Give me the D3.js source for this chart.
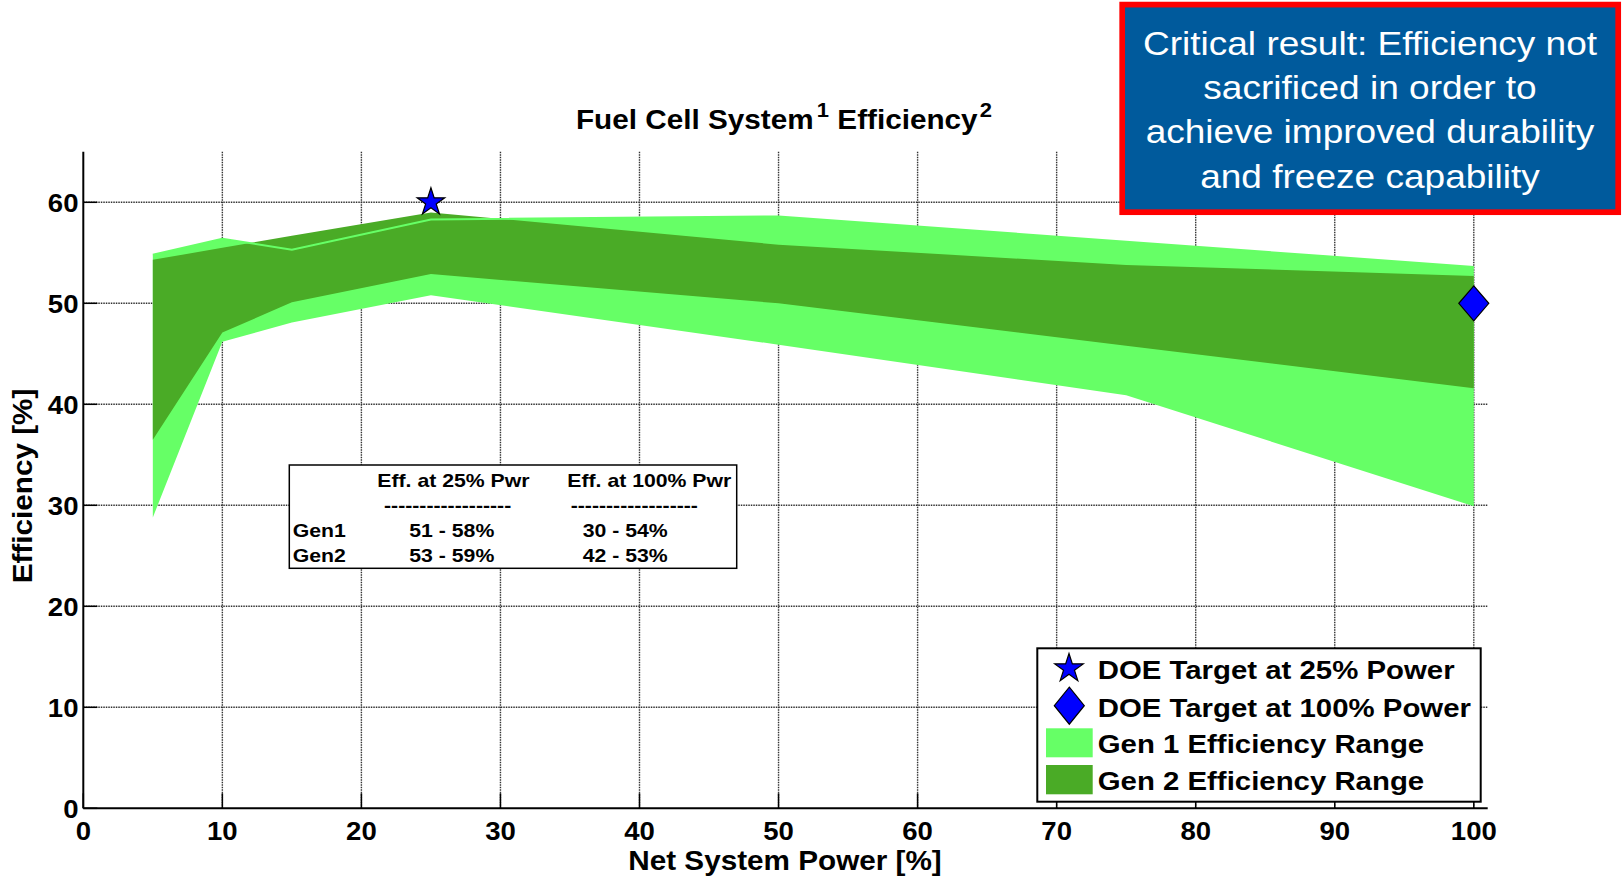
<!DOCTYPE html>
<html>
<head>
<meta charset="utf-8">
<script src="https://cdn.jsdelivr.net/npm/d3@7"></script>
<style>
  body { margin: 0; background: #fff; }
  text { font-family: "Liberation Sans", Arial, sans-serif; }
</style>
</head>
<body>
<div id="plot"></div>
<script>
// chart values
const powerPts = [5, 10, 15, 25, 50, 75, 100];
const gen1Low  = [28.8, 46.2, 48.1, 50.8, 45.9, 40.9, 29.9];
const gen1High = [54.8, 56.4, 55.3, 58.3, 58.6, 56.1, 53.6];
const gen2Low  = [36.5, 47.1, 50.1, 52.9, 50.0, 45.8, 41.6];
const gen2High = [54.3, 55.5, 56.7, 59.0, 55.8, 53.8, 52.7];

const targetPower = [25, 100];
const targetEff = [60, 50];

const xTicks = [0, 10, 20, 30, 40, 50, 60, 70, 80, 90, 100];
const yTicks = [0, 10, 20, 30, 40, 50, 60];

const legendLabels = ["DOE Target at 25% Power", "DOE Target at 100% Power",
                      "Gen 1 Efficiency Range", "Gen 2 Efficiency Range"];
const tableHead = ["Eff. at 25% Pwr", "Eff. at 100% Pwr"];
const tableRows = ["Gen1", "Gen2"];
const eff25 = ["51 - 58%", "53 - 59%"];
const eff100 = ["30 - 54%", "42 - 53%"];
const noteLines = ["Critical result: Efficiency not", "sacrificed in order to",
                   "achieve improved durability", "and freeze capability"];

const width = 1622, height = 879;
const light = "#66ff66", dark = "#4aab26";

const svg = d3.select("#plot").append("svg")
  .attr("width", width)
  .attr("height", height);

const x = d3.scaleLinear().domain([0, 101]).range([83.3, 1487.7]);
const y = d3.scaleLinear().domain([0, 65]).range([808.3, 151.8]);

// text with a bit of horizontal stretch, like the original rendering
function label(parent, px, py, str, size, opts = {}) {
  const rot = opts.rotate ? ` rotate(${opts.rotate})` : "";
  return parent.append("text")
    .attr("transform", `translate(${px},${py})${rot} scale(${opts.sx || 1},1)`)
    .attr("text-anchor", opts.anchor || "start")
    .attr("font-size", size)
    .attr("font-weight", opts.weight || "bold")
    .attr("fill", opts.fill || "#000")
    .text(str);
}

// grid
const grid = svg.append("g")
  .attr("stroke", "#333")
  .attr("stroke-width", 1.4)
  .attr("stroke-dasharray", "1.5,1");
grid.selectAll(".vg").data(xTicks.slice(1)).join("line")
  .attr("x1", d => x(d)).attr("x2", d => x(d))
  .attr("y1", y(65)).attr("y2", y(0));
grid.selectAll(".hg").data(yTicks.slice(1)).join("line")
  .attr("x1", x(0)).attr("x2", x(101))
  .attr("y1", d => y(d)).attr("y2", d => y(d));

// efficiency bands
const rows = (lo, hi) => powerPts.map((p, i) => ({ p, lo: lo[i], hi: hi[i] }));
const band = d3.area().x(d => x(d.p)).y0(d => y(d.lo)).y1(d => y(d.hi));

svg.append("path").datum(rows(gen1Low, gen1High))
  .attr("d", band).attr("fill", light);
svg.append("path").datum(rows(gen2Low, gen2High))
  .attr("d", band).attr("fill", dark);
// gen 1 outline shows through on the upper edge
svg.append("path").datum(rows(gen1Low, gen1High))
  .attr("d", d3.line().x(d => x(d.p)).y(d => y(d.hi)))
  .attr("fill", "none").attr("stroke", light).attr("stroke-width", 2);

// axes lines and inward ticks
const ax = svg.append("g").attr("stroke", "#000");
ax.append("line").attr("x1", x(0)).attr("x2", x(0)).attr("y1", y(65)).attr("y2", y(0)).attr("stroke-width", 2);
ax.append("line").attr("x1", x(0)).attr("x2", x(101)).attr("y1", y(0)).attr("y2", y(0)).attr("stroke-width", 2);
ax.selectAll(".xt").data(xTicks).join("line")
  .attr("x1", d => x(d)).attr("x2", d => x(d))
  .attr("y1", y(0)).attr("y2", y(0) - 15).attr("stroke-width", 1.5);
ax.selectAll(".yt").data(yTicks).join("line")
  .attr("x1", x(0)).attr("x2", x(0) + 14)
  .attr("y1", d => y(d)).attr("y2", d => y(d)).attr("stroke-width", 1.5);

xTicks.forEach(t => label(svg, x(t), 840, String(t), 26, { anchor: "middle", sx: 1.06 }));
yTicks.forEach(t => label(svg, 78.5, y(t) + 9.3, String(t), 26, { anchor: "end", sx: 1.06 }));

label(svg, 785, 870, "Net System Power [%]", 27, { anchor: "middle", sx: 1.1 });
label(svg, 32, 486, "Efficiency [%]", 27, { anchor: "middle", sx: 1.1, rotate: -90 });

// title with superscripts
const title = svg.append("text")
  .attr("transform", "translate(784,129) scale(1.1,1)")
  .attr("text-anchor", "middle")
  .attr("font-size", 27).attr("font-weight", "bold");
title.append("tspan").text("Fuel Cell System");
title.append("tspan").attr("font-size", 20).attr("dy", -12).attr("dx", 3).text("1");
title.append("tspan").attr("dy", 12).text(" Efficiency");
title.append("tspan").attr("font-size", 20).attr("dy", -12).attr("dx", 2).text("2");

// target markers
const starSym = r => d3.symbol(d3.symbolStar).size(r * r / 0.8908130915292852)();
const diamond = (w, h) => `M0,${-h}L${w},0L0,${h}L${-w},0Z`;

svg.append("path")
  .attr("d", starSym(14.5))
  .attr("transform", `translate(${x(targetPower[0])},${y(targetEff[0])})`)
  .attr("fill", "#0000ff").attr("stroke", "#000").attr("stroke-width", 1.2);
svg.append("path")
  .attr("d", diamond(15, 17.5))
  .attr("transform", `translate(${x(targetPower[1])},${y(targetEff[1])})`)
  .attr("fill", "#0000ff").attr("stroke", "#000").attr("stroke-width", 1.2);

// summary table
const tbl = svg.append("g");
tbl.append("rect").attr("x", 289.3).attr("y", 465).attr("width", 447.4).attr("height", 103.3)
  .attr("fill", "#fff").attr("stroke", "#000").attr("stroke-width", 1.5);
const colX = [377.3, 567.3], valX = [409.3, 582.7], dashX = [384, 570.7];
tableHead.forEach((h, i) => {
  label(tbl, colX[i], 486.7, h, 18, { sx: 1.18 });
  label(tbl, dashX[i], 512, "-".repeat(18), 18, { sx: 1.18 });
});
tableRows.forEach((r, i) => {
  const by = 536.7 + i * 25;
  label(tbl, 292.7, by, r, 18, { sx: 1.18 });
  label(tbl, valX[0], by, eff25[i], 18, { sx: 1.18 });
  label(tbl, valX[1], by, eff100[i], 18, { sx: 1.18 });
});

// legend
const lg = svg.append("g");
lg.append("rect").attr("x", 1037.3).attr("y", 648.3).attr("width", 443.4).attr("height", 153.4)
  .attr("fill", "#fff").attr("stroke", "#000").attr("stroke-width", 2);
lg.append("path").attr("d", starSym(15)).attr("transform", "translate(1069,668.5)")
  .attr("fill", "#0000ff").attr("stroke", "#000").attr("stroke-width", 1.2);
lg.append("path").attr("d", diamond(15, 18.5)).attr("transform", "translate(1069.3,705.7)")
  .attr("fill", "#0000ff").attr("stroke", "#000").attr("stroke-width", 1.2);
lg.append("rect").attr("x", 1046).attr("y", 728.3).attr("width", 46.7).attr("height", 29).attr("fill", light);
lg.append("rect").attr("x", 1046).attr("y", 765).attr("width", 46.7).attr("height", 29.3).attr("fill", dark);
const legY = [679.3, 717.3, 753.3, 790];
legendLabels.forEach((t, i) => label(lg, 1097.7, legY[i], t, 26, { sx: 1.13 }));

// call-out box
const note = svg.append("g");
note.append("rect").attr("x", 1122.2).attr("y", 4.6).attr("width", 496).attr("height", 207.6)
  .attr("fill", "#005a9c").attr("stroke", "#ff0000").attr("stroke-width", 5.7);
noteLines.forEach((t, i) => label(note, 1370, 55 + i * 44.2, t, 32.5,
  { anchor: "middle", sx: 1.14, weight: "normal", fill: "#fff" }));
</script>
</body>
</html>
